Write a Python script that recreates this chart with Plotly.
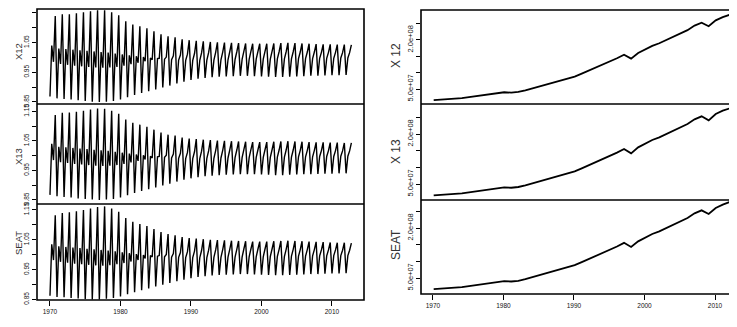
import plotly.graph_objects as go

# ---------------- data ----------------
years = list(range(1970, 2013))

# Seasonal factors (quarterly) - X12
x12_q1 = [0.868, 0.862, 0.860, 0.858, 0.856, 0.853, 0.851, 0.850, 0.851, 0.853,
          0.858, 0.866, 0.873, 0.880, 0.886, 0.892, 0.899, 0.905, 0.912, 0.918,
          0.924, 0.928, 0.931, 0.933, 0.935, 0.936, 0.937, 0.938, 0.938, 0.937,
          0.936, 0.935, 0.934, 0.934, 0.935, 0.936, 0.937, 0.938, 0.938, 0.939,
          0.940, 0.940, 0.941]
x12_q2 = [1.040, 1.030, 1.028, 1.026, 1.024, 1.022, 1.020, 1.018, 1.016, 1.013,
          1.010, 1.007, 1.004, 1.001, 0.998, 0.996, 0.994, 0.992, 0.991, 0.990,
          0.990, 0.990, 0.991, 0.991, 0.992, 0.992, 0.993, 0.993, 0.993, 0.994,
          0.994, 0.994, 0.995, 0.995, 0.995, 0.996, 0.996, 0.996, 0.997, 0.997,
          0.997, 0.998, 0.998]
x12_q3 = [0.985, 0.978, 0.975, 0.972, 0.970, 0.968, 0.966, 0.965, 0.966, 0.968,
          0.972, 0.977, 0.982, 0.987, 0.992, 0.997, 1.001, 1.005, 1.008, 1.011,
          1.013, 1.015, 1.016, 1.017, 1.018, 1.019, 1.019, 1.020, 1.020, 1.020,
          1.020, 1.020, 1.019, 1.019, 1.019, 1.018, 1.018, 1.018, 1.017, 1.017,
          1.017, 1.016, 1.016]
x12_q4 = [1.139, 1.145, 1.145, 1.149, 1.152, 1.155, 1.159, 1.159, 1.152, 1.142,
          1.122, 1.111, 1.105, 1.098, 1.088, 1.078, 1.071, 1.068, 1.061, 1.058,
          1.056, 1.054, 1.052, 1.051, 1.050, 1.049, 1.048, 1.047, 1.046, 1.046,
          1.046, 1.047, 1.048, 1.049, 1.048, 1.047, 1.046, 1.045, 1.044, 1.044,
          1.043, 1.043, 1.042]

# X13 (visually almost identical to X12)
x13_q1 = [0.867, 0.862, 0.860, 0.858, 0.855, 0.853, 0.851, 0.850, 0.851, 0.853,
          0.858, 0.866, 0.873, 0.880, 0.886, 0.892, 0.899, 0.905, 0.912, 0.918,
          0.923, 0.927, 0.930, 0.932, 0.934, 0.935, 0.936, 0.937, 0.937, 0.937,
          0.936, 0.935, 0.934, 0.934, 0.935, 0.936, 0.937, 0.937, 0.938, 0.939,
          0.939, 0.940, 0.940]
x13_q2 = x12_q2
x13_q3 = x12_q3
x13_q4 = [1.138, 1.145, 1.146, 1.149, 1.152, 1.156, 1.160, 1.159, 1.152, 1.142,
          1.122, 1.111, 1.105, 1.098, 1.088, 1.078, 1.071, 1.068, 1.061, 1.058,
          1.056, 1.054, 1.053, 1.051, 1.050, 1.049, 1.048, 1.047, 1.046, 1.046,
          1.046, 1.047, 1.048, 1.049, 1.048, 1.047, 1.046, 1.045, 1.045, 1.044,
          1.044, 1.043, 1.043]

# SEATS
seat_q1 = [0.862, 0.858, 0.857, 0.855, 0.853, 0.851, 0.850, 0.850, 0.852, 0.855,
           0.860, 0.867, 0.874, 0.881, 0.887, 0.893, 0.899, 0.905, 0.911, 0.916,
           0.921, 0.925, 0.928, 0.930, 0.932, 0.933, 0.934, 0.935, 0.935, 0.934,
           0.933, 0.932, 0.931, 0.931, 0.932, 0.933, 0.934, 0.935, 0.935, 0.936,
           0.937, 0.937, 0.938]
seat_q2 = [1.035, 1.028, 1.026, 1.024, 1.022, 1.020, 1.018, 1.016, 1.014, 1.011,
           1.008, 1.005, 1.002, 0.999, 0.997, 0.995, 0.993, 0.992, 0.991, 0.990,
           0.990, 0.990, 0.990, 0.991, 0.991, 0.992, 0.992, 0.992, 0.993, 0.993,
           0.993, 0.994, 0.994, 0.994, 0.995, 0.995, 0.995, 0.996, 0.996, 0.996,
           0.997, 0.997, 0.997]
seat_q3 = [0.982, 0.976, 0.973, 0.970, 0.968, 0.966, 0.964, 0.963, 0.965, 0.968,
           0.972, 0.977, 0.982, 0.987, 0.992, 0.997, 1.001, 1.004, 1.007, 1.010,
           1.012, 1.014, 1.015, 1.016, 1.017, 1.018, 1.018, 1.019, 1.019, 1.019,
           1.019, 1.019, 1.018, 1.018, 1.018, 1.017, 1.017, 1.017, 1.016, 1.016,
           1.016, 1.015, 1.015]
seat_q4 = [1.132, 1.140, 1.142, 1.146, 1.150, 1.155, 1.160, 1.162, 1.155, 1.144,
           1.123, 1.110, 1.103, 1.096, 1.086, 1.076, 1.069, 1.065, 1.059, 1.056,
           1.054, 1.052, 1.050, 1.049, 1.048, 1.047, 1.046, 1.045, 1.044, 1.044,
           1.044, 1.045, 1.046, 1.047, 1.046, 1.045, 1.044, 1.043, 1.042, 1.041,
           1.040, 1.040, 1.039]

# Trend (annual)
x12_trend = [1.60e7, 1.70e7, 1.85e7, 2.00e7, 2.20e7, 2.50e7, 2.80e7, 3.10e7, 3.40e7, 3.70e7,
             4.00e7, 3.90e7, 4.10e7, 4.60e7, 5.20e7, 5.80e7, 6.40e7, 7.10e7, 7.80e7, 8.30e7,
             8.80e7, 9.70e7, 1.06e8, 1.15e8, 1.24e8, 1.34e8, 1.44e8, 1.55e8, 1.43e8, 1.60e8,
             1.71e8, 1.82e8, 1.90e8, 2.00e8, 2.10e8, 2.20e8, 2.30e8, 2.44e8, 2.53e8, 2.42e8,
             2.60e8, 2.70e8, 2.77e8]
x13_trend = [1.60e7, 1.70e7, 1.86e7, 2.01e7, 2.20e7, 2.50e7, 2.80e7, 3.10e7, 3.40e7, 3.70e7,
             4.00e7, 3.88e7, 4.10e7, 4.60e7, 5.20e7, 5.80e7, 6.40e7, 7.10e7, 7.80e7, 8.30e7,
             8.80e7, 9.70e7, 1.06e8, 1.15e8, 1.24e8, 1.34e8, 1.44e8, 1.55e8, 1.42e8, 1.60e8,
             1.71e8, 1.82e8, 1.90e8, 2.00e8, 2.10e8, 2.20e8, 2.30e8, 2.44e8, 2.53e8, 2.41e8,
             2.60e8, 2.70e8, 2.77e8]
seat_trend = [1.65e7, 1.75e7, 1.90e7, 2.05e7, 2.25e7, 2.55e7, 2.85e7, 3.15e7, 3.45e7, 3.75e7,
              4.05e7, 3.95e7, 4.15e7, 4.65e7, 5.25e7, 5.85e7, 6.45e7, 7.15e7, 7.85e7, 8.35e7,
              8.85e7, 9.75e7, 1.065e8, 1.155e8, 1.245e8, 1.345e8, 1.445e8, 1.555e8, 1.43e8, 1.60e8,
              1.71e8, 1.82e8, 1.90e8, 2.00e8, 2.10e8, 2.20e8, 2.30e8, 2.44e8, 2.53e8, 2.42e8,
              2.60e8, 2.70e8, 2.78e8]

season_ticks = [0.85, 0.90, 0.95, 1.00, 1.05, 1.10, 1.15]
season_ticktext = ["0.85", "", "0.95", "", "1.05", "", "1.15"]
trend_ticks = [5e7, 1e8, 1.5e8, 2e8, 2.5e8]
trend_ticktext = ["5.0e+07", "", "", "2.0e+08", ""]
year_ticks = [1970, 1980, 1990, 2000, 2010]
year_ticktext = ["1970", "1980", "1990", "2000", "2010"]

left_titles = ["X12", "X13", "SEAT"]
right_titles = ["X 12", "X 13", "SEAT"]

# ---------------- figure ----------------
# The page body has an 8px margin, so the figure is drawn 8px in from the window corner.
OFF = 8
W, H = 737 - OFF, 327 - OFF
FONT = "Liberation Sans, Arial, sans-serif"


def px_x(sx):  # screen px -> paper fraction
    return (sx - OFF) / W


def px_y(sy):
    return 1 - (sy - OFF) / H


def quarterly(q1, q2, q3, q4):
    xs, ys = [], []
    for i, yr in enumerate(years):
        for q, v in enumerate((q1[i], q2[i], q3[i], q4[i])):
            xs.append(yr + q / 4)
            ys.append(v)
    return xs, ys


fig = go.Figure()

season_sets = [(x12_q1, x12_q2, x12_q3, x12_q4),
               (x13_q1, x13_q2, x13_q3, x13_q4),
               (seat_q1, seat_q2, seat_q3, seat_q4)]
trend_sets = [x12_trend, x13_trend, seat_trend]

for i, s in enumerate(season_sets):
    xs, ys = quarterly(*s)
    fig.add_trace(go.Scatter(x=xs, y=ys, mode="lines",
                             line=dict(color="black", width=1.4),
                             xaxis="x" if i == 0 else f"x{i+1}",
                             yaxis="y" if i == 0 else f"y{i+1}",
                             showlegend=False, hoverinfo="skip"))
for i, t in enumerate(trend_sets):
    fig.add_trace(go.Scatter(x=[y + 0.1 for y in years], y=t, mode="lines",
                             line=dict(color="black", width=1.8),
                             xaxis=f"x{i+4}", yaxis=f"y{i+4}",
                             showlegend=False, hoverinfo="skip"))

# panel geometry in screen pixels
left_x = (37, 364)
right_x = (421, 737)
left_y = [(9, 104), (104, 204), (204, 300)]
right_y = [(10, 104), (104, 200), (200, 294)]
left_ranges = [[0.843, 1.163], [0.836, 1.175], [0.848, 1.170]]
right_ranges = [[4.1e6, 2.917e8], [2.0e6, 2.9e8], [2.0e6, 2.84e8]]
left_xrange = [1968.16, 2014.54]
right_xrange = [1968.30, 2013.12]

common = dict(showline=False, showgrid=False, zeroline=False, automargin=False,
              tickcolor="black", tickwidth=1,
              tickfont=dict(family=FONT, size=6.5, color="#111"))

layout = dict(width=W, height=H, margin=dict(l=0, r=0, t=0, b=0),
              paper_bgcolor="white", plot_bgcolor="white",
              template="none", showlegend=False)

for i in range(3):
    xn = "xaxis" if i == 0 else f"xaxis{i+1}"
    yn = "yaxis" if i == 0 else f"yaxis{i+1}"
    ya = "y" if i == 0 else f"y{i+1}"
    xa = "x" if i == 0 else f"x{i+1}"
    last = (i == 2)
    layout[xn] = dict(common, domain=[px_x(left_x[0]), min(px_x(left_x[1]), 1)],
                      range=left_xrange, anchor=ya,
                      tickvals=year_ticks, ticktext=year_ticktext,
                      ticks="outside" if last else "", ticklen=5,
                      showticklabels=last)
    layout[yn] = dict(common, domain=[px_y(left_y[i][1]), px_y(left_y[i][0])],
                      range=left_ranges[i], anchor=xa,
                      tickvals=season_ticks, ticktext=season_ticktext,
                      ticks="outside", ticklen=4, tickangle=-90)
    j = i + 4
    layout[f"xaxis{j}"] = dict(common, domain=[px_x(right_x[0]), min(px_x(right_x[1]), 1)],
                               range=right_xrange, anchor=f"y{j}",
                               tickvals=year_ticks, ticktext=year_ticktext,
                               ticks="outside" if last else "", ticklen=5,
                               showticklabels=last)
    layout[f"yaxis{j}"] = dict(common, domain=[px_y(right_y[i][1]), px_y(right_y[i][0])],
                               range=right_ranges[i], anchor=f"x{j}",
                               tickvals=trend_ticks, ticktext=trend_ticktext,
                               ticks="outside", ticklen=4, tickangle=-90,
                               tickfont=dict(family=FONT, size=7.5, color="#111"))

# frames: one box per column plus single divider lines
shapes = []
frame = dict(color="black", width=1.6)
for (x0, x1), ys in ((left_x, left_y), (right_x, right_y)):
    shapes.append(dict(type="rect", xref="paper", yref="paper",
                       x0=px_x(x0), x1=min(px_x(x1), 1), y0=px_y(ys[2][1]), y1=px_y(ys[0][0]),
                       line=frame, fillcolor="rgba(0,0,0,0)", layer="above"))
    for k in (0, 1):
        shapes.append(dict(type="line", xref="paper", yref="paper",
                           x0=px_x(x0), x1=min(px_x(x1), 1),
                           y0=px_y(ys[k][1]), y1=px_y(ys[k][1]),
                           line=frame, layer="above"))
layout["shapes"] = shapes

annotations = []
left_title_y = [52, 157, 243]
right_title_y = [56, 152, 245]
for i in range(3):
    annotations.append(dict(text=left_titles[i], x=px_x(18), y=px_y(left_title_y[i]),
                            xref="paper", yref="paper", showarrow=False, textangle=-90,
                            font=dict(family=FONT, size=9.5, color="#333"),
                            xanchor="center", yanchor="middle"))
    annotations.append(dict(text=right_titles[i], x=px_x(396), y=px_y(right_title_y[i]),
                            xref="paper", yref="paper", showarrow=False, textangle=-90,
                            font=dict(family=FONT, size=12, color="#333"),
                            xanchor="center", yanchor="middle"))
layout["annotations"] = annotations

fig.update_layout(**layout)
fig.write_html("out.html")
